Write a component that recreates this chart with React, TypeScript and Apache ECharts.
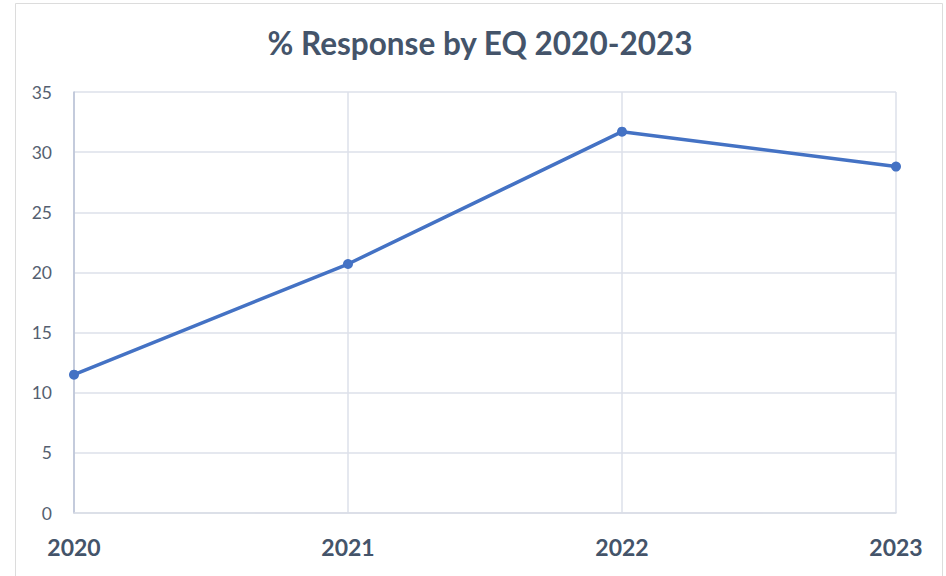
import React, { useEffect, useRef } from "react";
import * as echarts from "echarts";

const categories = ["2020", "2021", "2022", "2023"];
const responsePct = [11.5, 20.7, 31.7, 28.8];
const titleText = "% Response by EQ 2020-2023";

export default function App() {
  const ref = useRef<HTMLDivElement>(null);
  useEffect(() => {
    if (!ref.current) return;
    const chart = echarts.init(ref.current, null, { renderer: "svg" });
    chart.setOption({
      animation: false,
      backgroundColor: "#ffffff",
      textStyle: { fontFamily: "Lato" },
      graphic: [
        {
          type: "rect",
          shape: { x: 15.5, y: 3.5, width: 927, height: 590 },
          style: { fill: "none", stroke: "#dcdcdc", lineWidth: 1 },
          silent: true,
        },
        {
          type: "text",
          x: 480,
          y: 43,
          style: {
            text: titleText,
            fontFamily: "Lato",
            fontWeight: "bold",
            fontSize: 31.5,
            fill: "#44546A",
            textAlign: "center",
            textVerticalAlign: "middle",
          },
        },
      ],
      grid: { left: 74, right: 50, top: 92, bottom: 63, containLabel: false },
      xAxis: {
        type: "category",
        data: categories,
        boundaryGap: false,
        axisLine: { show: true, lineStyle: { color: "#d9dde6", width: 1.5 } },
        axisTick: { show: false },
        splitLine: { show: true, lineStyle: { color: "#dde1ea", width: 1.5 } },
        axisLabel: {
          color: "#44546A",
          fontFamily: "Lato",
          fontWeight: "bold",
          fontSize: 23,
          margin: 22,
        },
      },
      yAxis: {
        type: "value",
        min: 0,
        max: 35,
        interval: 5,
        axisLine: { show: true, lineStyle: { color: "#b8c2d6", width: 1.5 } },
        axisTick: { show: false },
        splitLine: { show: true, lineStyle: { color: "#dde1ea", width: 1.5 } },
        axisLabel: {
          color: "#555f70",
          fontFamily: "Lato",
          fontSize: 17.5,
          margin: 22,
        },
      },
      series: [
        {
          type: "line",
          data: responsePct,
          symbol: "circle",
          symbolSize: 10,
          lineStyle: { color: "#4472C4", width: 3.5 },
          itemStyle: { color: "#4472C4" },
        },
      ],
    });
    return () => chart.dispose();
  }, []);
  return (
    <div
      ref={ref}
      style={{ position: "fixed", left: 0, top: 0, width: 946, height: 576 }}
    />
  );
}
